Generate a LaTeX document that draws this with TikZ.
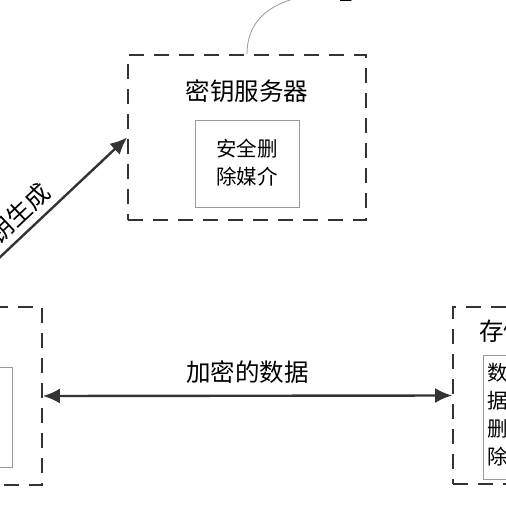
\documentclass[tikz,border=0pt]{standalone}
\usepackage{fontspec}
\setmainfont{Noto Sans CJK SC}
\usepackage{xcolor}
\usetikzlibrary{positioning,calc,arrows.meta}

\begin{document}
\begin{tikzpicture}[
    x=1pt,
    y=-1pt,
    >=Latex,
    unit/.style={draw=black!80, line width=1.8pt, dash pattern=on 15pt off 10pt, minimum width=238pt, minimum height=165pt, inner sep=0pt},
    medium/.style={draw=black!40, line width=0.8pt, inner sep=0pt},
    title/.style={font=\fontsize{24.5pt}{28pt}\selectfont, inner sep=0pt},
    mediumtext/.style={font=\fontsize{20.5pt}{28pt}\selectfont, align=left, inner sep=0pt},
    flow/.style={draw=black!80, line width=2.4pt, -{Latex[length=17pt, width=15pt]}},
    twoway/.style={draw=black!80, line width=2.4pt, {Latex[length=17pt, width=15pt]}-{Latex[length=17pt, width=15pt]}},
    leader/.style={draw=black!40, line width=0.8pt}
]

% Frame: pixel coordinates of the crop, y downwards
\useasboundingbox (0,0) rectangle (506,506);
\clip (0,0) rectangle (506,506);

% Key server
\node[unit] (keysrv) at (247,137.5) {};
\node[title] (keysrvtitle) at (247,91) {密钥服务器};
\node[medium, minimum width=104pt, minimum height=87pt] (keymedium) at (247,163.5) {};
\node[mediumtext] (keymediumtext) at (247,163) {安全删\\除媒介};

% Reference numeral
\node[title] (refnum) at (346,-7) {2};
\draw[leader] (keysrv.north) .. controls (247,14) and (280,-6) .. (refnum.west);

% Client (left, mostly outside the crop)
\node[unit, minimum width=188pt, minimum height=178pt] (client) at (-52,396) {};
\node[medium, minimum width=104pt, minimum height=100pt] (clientmedium) at (-40,417) {};

% Storage (right, mostly outside the crop)
\node[unit, minimum height=177pt] (storage) at (572,395.5) {};
\node[title, anchor=west] (storagetitle) at (479,331) {存储};
\node[medium, minimum width=104pt, minimum height=124pt] (storagemedium) at (535,417) {};
\node[mediumtext, anchor=north west] (storagemediumtext) at (487,363) {数\\据\\删\\除};

% Connectors
\draw[flow] (client.north) -- (keysrv.west)
    node[pos=0.42, sloped, above=6pt, title] (genlabel) {密钥生成};
\draw[twoway] (client.east) -- (storage.west)
    node[midway, above=11pt, title] (datalabel) {加密的数据};

\end{tikzpicture}
\end{document}
